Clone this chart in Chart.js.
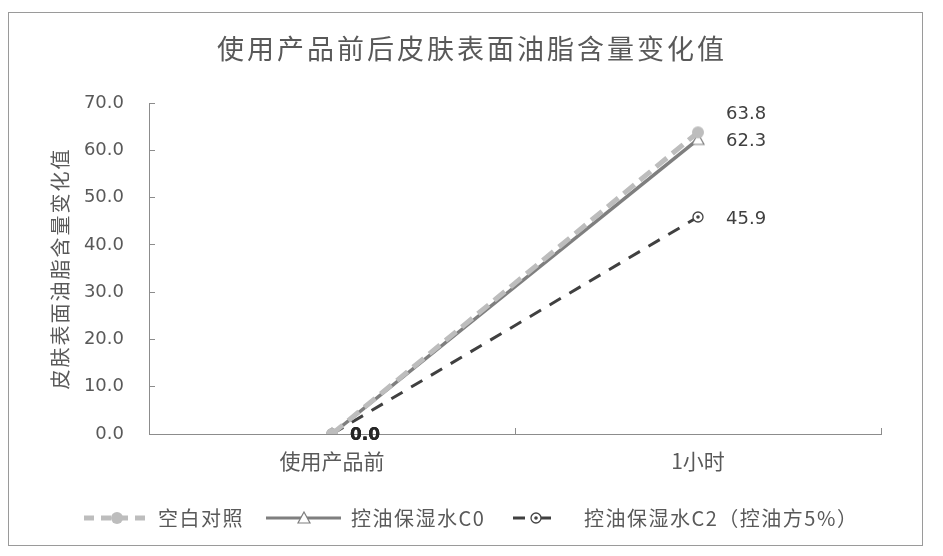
<!DOCTYPE html>
<html>
<head>
<meta charset="utf-8">
<script src="https://cdn.jsdelivr.net/npm/chart.js@4"></script>
<style>
  body { margin: 0; background: #fff; }
  #box { position: absolute; left: 8px; top: 12px; width: 913px; height: 532px; border: 1px solid #9a9a9a; }
  canvas { display: block; }
</style>
</head>
<body>
<div id="box"><canvas id="chartCanvas" width="913" height="532"></canvas></div>
<script>
const categories = ["使用产品前", "1小时"];
const blankValues = [0.0, 63.8];
const c0Values = [0.0, 62.3];
const c2Values = [0.0, 45.9];
const seriesNames = ["空白对照", "控油保湿水C0", "控油保湿水C2（控油方5%）"];
const yTicks = [0, 10, 20, 30, 40, 50, 60, 70];

const cjk = '"Noto Sans CJK SC", "Microsoft YaHei", sans-serif';
const num = '"DejaVu Sans", Verdana, sans-serif';

// 标记图形
function marker(kind) {
  const c = document.createElement("canvas");
  c.width = 16; c.height = 16;
  const g = c.getContext("2d");
  if (kind === "dot") {
    g.fillStyle = "#bdbdbd";
    g.beginPath(); g.arc(8, 8, 6, 0, Math.PI * 2); g.fill();
  } else if (kind === "tri") {
    g.strokeStyle = "#7f7f7f"; g.fillStyle = "#fff"; g.lineWidth = 1.2;
    g.beginPath(); g.moveTo(8, 2); g.lineTo(14, 13); g.lineTo(2, 13); g.closePath();
    g.fill(); g.stroke();
  } else {
    g.strokeStyle = "#444"; g.fillStyle = "#fff"; g.lineWidth = 1.3;
    g.beginPath(); g.arc(8, 8, 5, 0, Math.PI * 2); g.fill(); g.stroke();
    g.fillStyle = "#444";
    g.beginPath(); g.arc(8, 8, 1.8, 0, Math.PI * 2); g.fill();
  }
  return c;
}
const markers = [marker("dot"), marker("tri"), marker("ring")];

// 数据标签、标题和图例
const extras = {
  id: "extras",
  afterDatasetsDraw(chart) {
    const ctx = chart.ctx;
    ctx.save();
    ctx.textBaseline = "middle";
    ctx.textAlign = "left";
    const shifts = [-20, 0, 0];
    chart.data.datasets.forEach((ds, i) => {
      const meta = chart.getDatasetMeta(i);
      meta.data.forEach((pt, j) => {
        const v = ds.data[j];
        if (j === 0) {
          ctx.fillStyle = "#262626";
          ctx.font = "bold 17px " + num;
          ctx.fillText(v.toFixed(1), pt.x + 18, pt.y + 2);
        } else {
          ctx.fillStyle = "#404040";
          ctx.font = "18px " + num;
          ctx.fillText(v.toFixed(1), pt.x + 28, pt.y + 2 + shifts[i]);
        }
      });
    });
    ctx.restore();
  },
  afterDraw(chart) {
    const ctx = chart.ctx;
    ctx.save();
    ctx.fillStyle = "#595959";
    ctx.textBaseline = "middle";

    // 标题
    ctx.font = "27px " + cjk;
    ctx.letterSpacing = "3px";
    ctx.textAlign = "center";
    ctx.fillText("使用产品前后皮肤表面油脂含量变化值", 463, 36);

    // 纵轴标题
    const area = chart.chartArea;
    ctx.save();
    ctx.translate(51, (area.top + area.bottom) / 2);
    ctx.rotate(-Math.PI / 2);
    ctx.font = "20px " + cjk;
    ctx.letterSpacing = "2px";
    ctx.fillText("皮肤表面油脂含量变化值", 0, 0);
    ctx.restore();

    // 图例
    const y = 505;
    const items = [
      { x0: 75, x1: 137, mx: 108, tx: 149, color: "#bdbdbd", w: 5, dash: [10, 7] },
      { x0: 257, x1: 332, mx: 295, tx: 342, color: "#7f7f7f", w: 3, dash: [] },
      { x0: 504, x1: 552, mx: 527, tx: 575, color: "#404040", w: 3, dash: [12, 14] }
    ];
    items.forEach((it, i) => {
      ctx.strokeStyle = it.color;
      ctx.lineWidth = it.w;
      ctx.setLineDash(it.dash);
      ctx.beginPath(); ctx.moveTo(it.x0, y); ctx.lineTo(it.x1, y); ctx.stroke();
      ctx.setLineDash([]);
      ctx.drawImage(markers[i], it.mx - 8, y - 8);
      ctx.fillStyle = "#595959";
      ctx.font = "20px " + cjk;
      ctx.letterSpacing = "1.5px";
      ctx.textAlign = "left";
      ctx.fillText(seriesNames[i], it.tx, y);
    });
    ctx.restore();
  }
};

const chart = new Chart(document.getElementById("chartCanvas"), {
  type: "line",
  data: {
    labels: categories,
    datasets: [
      {
        label: seriesNames[0], data: blankValues,
        borderColor: "#bdbdbd", borderWidth: 5, borderDash: [14, 7],
        pointStyle: markers[0], pointRadius: 8
      },
      {
        label: seriesNames[1], data: c0Values,
        borderColor: "#7f7f7f", borderWidth: 3.5,
        pointStyle: markers[1], pointRadius: 8
      },
      {
        label: seriesNames[2], data: c2Values,
        borderColor: "#404040", borderWidth: 3, borderDash: [13, 10],
        pointStyle: markers[2], pointRadius: 8
      }
    ]
  },
  options: {
    responsive: false,
    animation: false,
    layout: { padding: { top: 90, right: 41, left: 0, bottom: 0 } },
    plugins: { legend: { display: false }, tooltip: { enabled: false } },
    scales: {
      x: {
        offset: true,
        // 刻度线朝内
        grid: { offset: true, drawOnChartArea: false, drawTicks: true, tickLength: -6, color: "#8c8c8c" },
        border: { color: "#8c8c8c" },
        ticks: { color: "#595959", font: { family: cjk, size: 21 }, padding: 20 },
        afterFit(s) { s.height = 111; }
      },
      y: {
        min: 0, max: 70,
        afterBuildTicks(s) { s.ticks = yTicks.map(v => ({ value: v })); },
        grid: { drawOnChartArea: false, drawTicks: true, tickLength: -6, color: "#8c8c8c" },
        border: { color: "#8c8c8c" },
        ticks: { color: "#595959", font: { family: num, size: 18 }, padding: 31, callback: v => v.toFixed(1) },
        afterFit(s) { s.width = 140; }
      }
    }
  },
  plugins: [extras]
});
</script>
</body>
</html>
